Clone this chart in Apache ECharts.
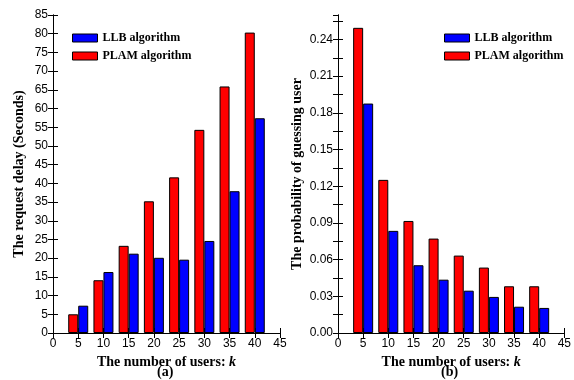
<!DOCTYPE html>
<html>
<head>
<meta charset="utf-8">
<script src="https://cdn.jsdelivr.net/npm/echarts@6/dist/echarts.min.js"></script>
<style>
  html, body { margin: 0; padding: 0; background: #fff; }
  #chart { width: 574px; height: 380px; }
</style>
</head>
<body>
<div id="chart"></div>
<script>
// number of users k
const users = [5, 10, 15, 20, 25, 30, 35, 40];

// (a) request delay, seconds
const delayLLB = [7.3, 16.3, 21.2, 20.1, 19.6, 24.6, 37.9, 57.4];
const delayPLAM = [5.0, 14.1, 23.3, 35.2, 41.6, 54.3, 65.9, 80.3];

// (b) probability of guessing user
const probLLB = [0.1876, 0.0835, 0.0554, 0.0436, 0.0346, 0.0295, 0.0215, 0.0205];
const probPLAM = [0.2495, 0.1252, 0.0916, 0.0772, 0.0633, 0.0535, 0.0382, 0.0382];

const pairs = (vals) => users.map((k, i) => [k, vals[i]]);

const chart = echarts.init(document.getElementById('chart'));

const tickFont = { fontFamily: 'Liberation Sans', fontSize: 12, color: '#000' };
const titleFont = { fontFamily: 'Liberation Serif', fontSize: 14, fontWeight: 'bold', color: '#000' };
const lineStyle = { color: '#000', width: 1 };

// bottom/left axes carry labels, top/right copies only draw the frame ticks
function xAxes(gridIndex, name) {
  return [
    {
      type: 'value', gridIndex, min: 0, max: 45, interval: 5,
      axisLine: { lineStyle },
      axisTick: { inside: true, length: 5, lineStyle },
      axisLabel: { ...tickFont, margin: 5 },
      splitLine: { show: false },
      name, nameLocation: 'middle', nameGap: 17,
      nameTextStyle: {
        ...titleFont,
        rich: {
          b: { ...titleFont },
          i: { ...titleFont, fontStyle: 'italic' }
        }
      }
    },
    {
      type: 'value', gridIndex, position: 'top', min: 0, max: 45, interval: 5,
      axisLine: { lineStyle },
      axisTick: { inside: true, length: 5, lineStyle },
      axisLabel: { show: false },
      splitLine: { show: false }
    }
  ];
}

function yAxes(gridIndex, opts) {
  const base = {
    type: 'value', gridIndex, min: 0, max: opts.max, interval: opts.interval,
    axisLine: { show: true, lineStyle },
    axisTick: { show: true, inside: true, length: 5, lineStyle },
    splitLine: { show: false }
  };
  return [
    {
      ...base,
      axisLabel: { ...tickFont, margin: 5, showMaxLabel: opts.showMax, formatter: opts.fmt },
      name: opts.name, nameLocation: 'middle', nameGap: opts.nameGap, nameRotate: 90,
      nameTextStyle: titleFont
    },
    { ...base, position: 'right', axisLabel: { show: false } }
  ];
}

// probability axis: a tick every 0.015, a label every 0.03
const probLabel = (v) => (Math.round(v / 0.015) % 2 === 0 ? v.toFixed(2) : '');

const barBase = {
  type: 'bar',
  barWidth: 10,
  barGap: '0%',
  itemStyle: { borderColor: '#000', borderWidth: 1 }
};

const legendBase = {
  orient: 'vertical',
  icon: 'rect',
  itemWidth: 25,
  itemHeight: 8,
  itemGap: 6,
  data: ['LLB algorithm', 'PLAM algorithm'],
  textStyle: { fontFamily: 'Liberation Serif', fontSize: 12, fontWeight: 'bold', color: '#000' },
  itemStyle: { borderColor: '#000', borderWidth: 1 }
};

const option = {
  animation: false,
  grid: [
    { left: 53, top: 15, width: 227, height: 318 },
    { left: 338, top: 15, width: 227, height: 318 }
  ],
  legend: [
    { ...legendBase, left: 67, top: 27 },
    { ...legendBase, left: 439, top: 27 }
  ],
  xAxis: [
    ...xAxes(0, '{b|The number of users: }{i|k}'),
    ...xAxes(1, '{b|The number of users: }{i|k}')
  ],
  yAxis: [
    ...yAxes(0, { max: 85, interval: 5, name: 'The request delay (Seconds)', nameGap: 27, showMax: true }),
    ...yAxes(1, { max: 0.26, interval: 0.015, name: 'The probability of guessing user', nameGap: 34,
                  showMax: false, fmt: probLabel })
  ],
  series: [
    { ...barBase, name: 'PLAM algorithm', xAxisIndex: 0, yAxisIndex: 0, data: pairs(delayPLAM), color: '#ff0000' },
    { ...barBase, name: 'LLB algorithm', xAxisIndex: 0, yAxisIndex: 0, data: pairs(delayLLB), color: '#0000ff' },
    { ...barBase, name: 'PLAM algorithm', xAxisIndex: 2, yAxisIndex: 2, data: pairs(probPLAM), color: '#ff0000' },
    { ...barBase, name: 'LLB algorithm', xAxisIndex: 2, yAxisIndex: 2, data: pairs(probLLB), color: '#0000ff' }
  ],
  graphic: [
    { type: 'text', left: 157, top: 365, style: { text: '(a)', font: 'bold 14px "Liberation Serif"', fill: '#000' } },
    { type: 'text', left: 441, top: 365, style: { text: '(b)', font: 'bold 14px "Liberation Serif"', fill: '#000' } }
  ]
};

chart.setOption(option);
</script>
</body>
</html>
